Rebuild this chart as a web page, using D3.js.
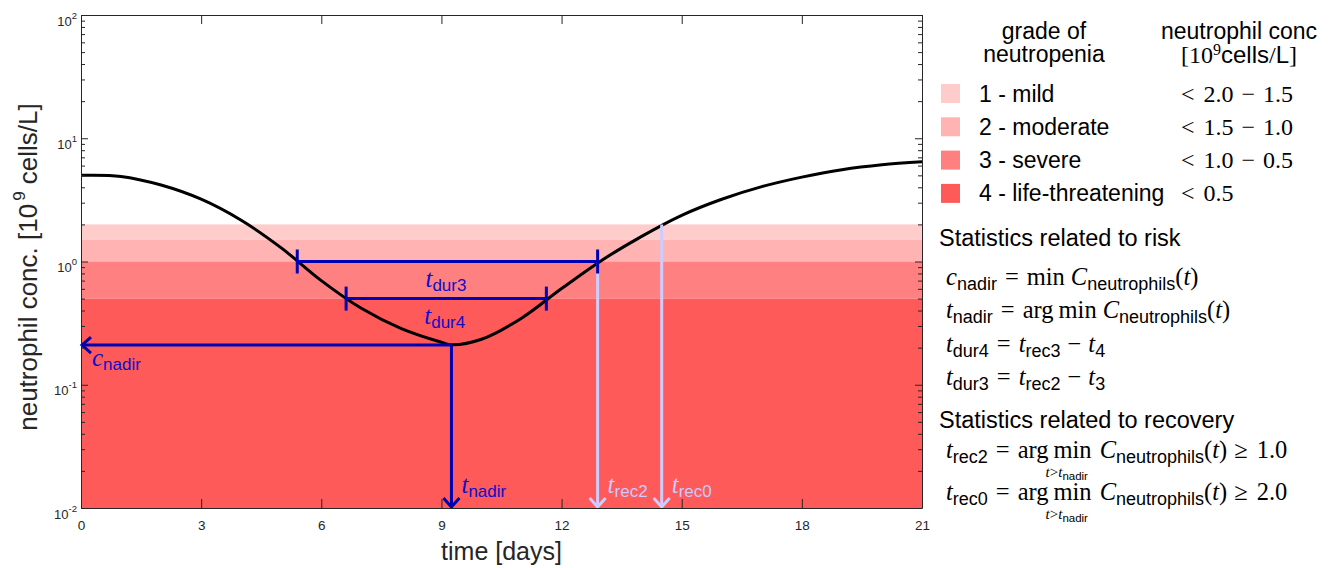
<!doctype html>
<html>
<head>
<meta charset="utf-8">
<script src="https://cdn.jsdelivr.net/npm/d3@7"></script>
<style>
    html, body { margin: 0; padding: 0; background: #fff; }
    svg { display: block; font-family: "Liberation Sans", Arial, Helvetica, sans-serif; }
    .axis text { font-family: "Liberation Sans", Arial, sans-serif; }
</style>
</head>
<body>
<svg id="chart" width="1334" height="568"></svg>
<script>
// neutrophil concentration curve
var days = [0, 1, 2, 3, 4, 5, 6, 7, 8, 9, 9.25, 10, 11, 12, 13, 14, 15, 16, 17, 18, 19, 20, 21];
var conc = [5.0, 4.9, 4.17, 3.2, 2.16, 1.29, 0.70, 0.417, 0.285, 0.221, 0.211, 0.234, 0.347, 0.603, 1.02, 1.6, 2.37, 3.2, 4.05, 4.84, 5.56, 6.1, 6.45];

// grades of neutropenia
var grades = ["1 - mild", "2 - moderate", "3 - severe", "4 - life-threatening"];
var gradeTop = [2.0, 1.5, 1.0, 0.5];
var gradeBottom = [1.5, 1.0, 0.5, 0.01];
var gradeRange = [["2.0", "1.5"], ["1.5", "1.0"], ["1.0", "0.5"], ["0.5"]];
var gradeColors = ["#ffcccc", "#ffb3b3", "#ff8080", "#ff5a5a"];

// statistics
var cNadir = 0.21, tNadir = 9.25;
var t3 = 5.4, tRec2 = 12.9, t4 = 6.62, tRec3 = 11.62, tRec0 = 14.5;
var level3 = 1.0, level4 = 0.5, level0 = 2.0;

// ticks
var xTicks = [0, 3, 6, 9, 12, 15, 18, 21];
var yMajor = [0.01, 0.1, 1, 10, 100];
var yExp = ["-2", "-1", "0", "1", "2"];

var blue = "#0000b3", blueText = "#0d0dcc", lav = "#ccccff", axisCol = "#262626";
var serif = "'Liberation Serif', 'Times New Roman', serif";
var sans = "'Liberation Sans', Arial, sans-serif";

var svg = d3.select("#chart");
var x = d3.scaleLinear().domain([0, 21]).range([81, 922]);
var y = d3.scaleLog().domain([0.01, 100]).range([508, 15]);

var yMinor = [];
yMajor.slice(0, 4).forEach(function(m){
    for (var k = 2; k <= 9; k++) yMinor.push(m * k);
});

// bands
svg.append("g").selectAll("rect").data(grades).enter().append("rect")
    .attr("x", x(0)).attr("width", x(21) - x(0))
    .attr("y", function(d, i){ return y(gradeTop[i]); })
    .attr("height", function(d, i){ return y(gradeBottom[i]) - y(gradeTop[i]); })
    .attr("fill", function(d, i){ return gradeColors[i]; });

// curve
var pts = days.map(function(d, i){ return [d, conc[i]]; });
svg.append("path").datum(pts)
    .attr("fill", "none").attr("stroke", "#000").attr("stroke-width", 3)
    .attr("d", d3.line().x(function(d){ return x(d[0]); }).y(function(d){ return y(d[1]); }).curve(d3.curveCatmullRom.alpha(0.5)));

// math-ish text helper: parts are [kind, text, dx]
function mathText(parent, px, py, parts, color, opts){
    opts = opts || {};
    var big = opts.big || 23, small = opts.small || 16.5, subDy = opts.subDy || 6, supDy = opts.supDy || 10;
    var t = parent.append("text").attr("x", px).attr("y", py).attr("fill", color || "#000");
    if (opts.anchor) t.attr("text-anchor", opts.anchor);
    var cur = 0, refs = {};
    parts.forEach(function(p){
        var kind = p[0], target = 0;
        var s = t.append("tspan").text(p[1]);
        if (kind === "i") s.style("font-family", serif).style("font-style", "italic").style("font-size", big + "px");
        else if (kind === "r") s.style("font-family", serif).style("font-size", big + "px");
        else if (kind === "s") s.style("font-family", sans).style("font-size", big + "px");
        else if (kind === "b") { s.style("font-family", sans).style("font-size", small + "px"); target = subDy; }
        else if (kind === "p") { s.style("font-family", serif).style("font-size", small + "px"); target = -supDy; }
        if (target !== cur) { s.attr("dy", target - cur); cur = target; }
        if (p[2]) s.attr("dx", p[2]);
        if (p[3]) refs[p[3]] = s;
    });
    return refs;
}

// recovery arrows (lavender)
function downArrow(g, t0, v0, col){
    var xa = x(t0), yb = y(0.01);
    g.append("line").attr("x1", xa).attr("x2", xa).attr("y1", y(v0)).attr("y2", yb - 1)
        .attr("stroke", col).attr("stroke-width", 3);
    g.append("path").attr("d", "M" + (xa - 8) + "," + (yb - 10) + "L" + xa + "," + (yb - 1) + "L" + (xa + 8) + "," + (yb - 10))
        .attr("fill", "none").attr("stroke", col).attr("stroke-width", 3);
}
var ann = svg.append("g");
downArrow(ann, tRec2, level3, lav);
downArrow(ann, tRec0, level0, lav);

// duration bars
function durBar(g, ta, tb, v){
    var yv = y(v);
    g.append("line").attr("x1", x(ta)).attr("x2", x(tb)).attr("y1", yv).attr("y2", yv)
        .attr("stroke", blue).attr("stroke-width", 3);
    [ta, tb].forEach(function(tt){
        g.append("line").attr("x1", x(tt)).attr("x2", x(tt)).attr("y1", yv - 12).attr("y2", yv + 12)
            .attr("stroke", blue).attr("stroke-width", 3);
    });
}
durBar(ann, t3, tRec2, level3);
durBar(ann, t4, tRec3, level4);

// nadir arrows
var yn = y(cNadir), xn = x(tNadir);
ann.append("line").attr("x1", xn).attr("x2", x(0) + 1).attr("y1", yn).attr("y2", yn)
    .attr("stroke", blue).attr("stroke-width", 3);
ann.append("path").attr("d", "M" + (x(0) + 10) + "," + (yn - 8) + "L" + (x(0) + 1) + "," + yn + "L" + (x(0) + 10) + "," + (yn + 8))
    .attr("fill", "none").attr("stroke", blue).attr("stroke-width", 3);
downArrow(ann, tNadir, cNadir, blue);

// annotation labels
var lab = {big: 25, small: 17, subDy: 4};
mathText(ann, x((t3 + tRec2) / 2) - 22, y(level3) + 25, [["i", "t"], ["b", "dur3"]], blueText, lab);
mathText(ann, x((t4 + tRec3) / 2) - 22, y(level4) + 25, [["i", "t"], ["b", "dur4"]], blueText, lab);
mathText(ann, x(0) + 11, yn + 21, [["i", "c"], ["b", "nadir"]], blueText, lab);
mathText(ann, xn + 10, 493, [["i", "t"], ["b", "nadir"]], blueText, lab);
mathText(ann, x(tRec2) + 10, 493, [["i", "t"], ["b", "rec2"]], lav, lab);
mathText(ann, x(tRec0) + 10, 493, [["i", "t"], ["b", "rec0"]], lav, lab);

// axes (inward ticks, box)
function styleAxis(g){
    g.selectAll("path, line").attr("stroke", axisCol);
    g.selectAll("text").attr("fill", axisCol);
}
var fmtNone = function(){ return ""; };
svg.append("g").attr("class", "axis").attr("transform", "translate(0," + y(0.01) + ")")
    .call(d3.axisBottom(x).tickValues(xTicks).tickSizeInner(-9).tickSizeOuter(0).tickPadding(12).tickFormat(d3.format("d")))
    .call(styleAxis)
    .selectAll("text").style("font-size", "13.5px");
svg.append("g").attr("class", "axis").attr("transform", "translate(0," + y(100) + ")")
    .call(d3.axisTop(x).tickValues(xTicks).tickSizeInner(-9).tickSizeOuter(0).tickFormat(fmtNone))
    .call(styleAxis);
[["L", x(0)], ["R", x(21)]].forEach(function(s){
    var mk = s[0] === "L" ? d3.axisLeft : d3.axisRight;
    svg.append("g").attr("class", "axis").attr("transform", "translate(" + s[1] + ",0)")
        .call(mk(y).tickValues(yMajor).tickSizeInner(-7).tickSizeOuter(0).tickFormat(fmtNone))
        .call(styleAxis);
    svg.append("g").attr("class", "axis").attr("transform", "translate(" + s[1] + ",0)")
        .call(mk(y).tickValues(yMinor).tickSizeInner(-4).tickSizeOuter(0).tickFormat(fmtNone))
        .call(styleAxis)
        .select(".domain").remove();
});

// y tick labels 10^n
var yl = svg.append("g").attr("fill", axisCol).style("font-size", "13px");
yMajor.forEach(function(m, i){
    var t = yl.append("text").attr("x", 77).attr("y", y(m) + 10.5).attr("text-anchor", "end");
    t.append("tspan").text("10");
    t.append("tspan").attr("dy", -7).style("font-size", "9.5px").text(yExp[i]);
});

// axis titles
svg.append("text").attr("x", (x(0) + x(21)) / 2).attr("y", 560).attr("text-anchor", "middle")
    .attr("fill", axisCol).style("font-size", "25px").text("time [days]");
var yt = svg.append("text").attr("transform", "translate(36.5,267) rotate(-90)").attr("text-anchor", "middle")
    .attr("fill", axisCol).style("font-size", "26px");
yt.append("tspan").text("neutrophil conc. [10");
yt.append("tspan").attr("dy", -12).attr("dx", 3).style("font-size", "17px").text("9");
yt.append("tspan").attr("dy", 12).text(" cells/L]");

// legend
var leg = svg.append("g");
leg.append("text").attr("x", 1044).attr("y", 39).attr("text-anchor", "middle").style("font-size", "23px").text("grade of");
leg.append("text").attr("x", 1044).attr("y", 62).attr("text-anchor", "middle").style("font-size", "23px").text("neutropenia");
leg.append("text").attr("x", 1239).attr("y", 39).attr("text-anchor", "middle").style("font-size", "23px").text("neutrophil conc");
mathText(leg, 1239, 63, [["r", "["], ["r", "10"], ["p", "9"], ["s", "cells"], ["r", "/"], ["s", "L"], ["r", "]"]], "#000",
    {anchor: "middle", big: 24, small: 16, supDy: 8});

grades.forEach(function(g, i){
    var cy = 93.5 + i * 33.3;
    leg.append("rect").attr("x", 941).attr("y", cy - 9.5).attr("width", 19).attr("height", 19).attr("fill", gradeColors[i]);
    leg.append("text").attr("x", 979).attr("y", cy + 8).style("font-size", "23px").text(g);
    var r = gradeRange[i];
    var parts = [["r", "<"], ["r", r[0], 9]];
    if (r[1]) parts.push(["r", "−", 8], ["r", r[1], 8]);
    mathText(leg, 1181, cy + 8, parts, "#000", {big: 24});
});

// statistics
leg.append("text").attr("x", 939).attr("y", 246).style("font-size", "23.5px").text("Statistics related to risk");
leg.append("text").attr("x", 939).attr("y", 428).style("font-size", "23.5px").text("Statistics related to recovery");

var eq = {big: 24.5, small: 18, subDy: 5};
mathText(leg, 946, 285, [["i", "c"], ["b", "nadir"], ["r", "=", 8], ["r", "min", 8], ["i", "C", 6], ["b", "neutrophils"], ["r", "("], ["i", "t"], ["r", ")"]], "#000", eq);
mathText(leg, 946, 318, [["i", "t"], ["b", "nadir"], ["r", "=", 8], ["r", "arg", 8], ["r", "min", 5], ["i", "C", 6], ["b", "neutrophils"], ["r", "("], ["i", "t"], ["r", ")"]], "#000", eq);
mathText(leg, 946, 352, [["i", "t"], ["b", "dur4"], ["r", "=", 8], ["i", "t", 8], ["b", "rec3"], ["r", "−", 7], ["i", "t", 7], ["b", "4"]], "#000", eq);
mathText(leg, 946, 385, [["i", "t"], ["b", "dur3"], ["r", "=", 8], ["i", "t", 8], ["b", "rec2"], ["r", "−", 7], ["i", "t", 7], ["b", "3"]], "#000", eq);

[["rec2", "1.0", 458], ["rec0", "2.0", 500]].forEach(function(row){
    var refs = mathText(leg, 946, row[2], [["i", "t"], ["b", row[0]], ["r", "=", 8], ["r", "arg", 8], ["r", "min", 5, "min"], ["i", "C", 8], ["b", "neutrophils"], ["r", "("], ["i", "t"], ["r", ")"], ["r", "≥", 7], ["r", row[1], 9]], "#000", eq);
    var bb = refs.min.node().getBBox();
    mathText(leg, bb.x + bb.width / 2 - 27, row[2] + 19, [["i", "t"], ["r", ">"], ["i", "t"], ["b", "nadir"]], "#000", {big: 15, small: 11.5, subDy: 3});
});
</script>
</body>
</html>
